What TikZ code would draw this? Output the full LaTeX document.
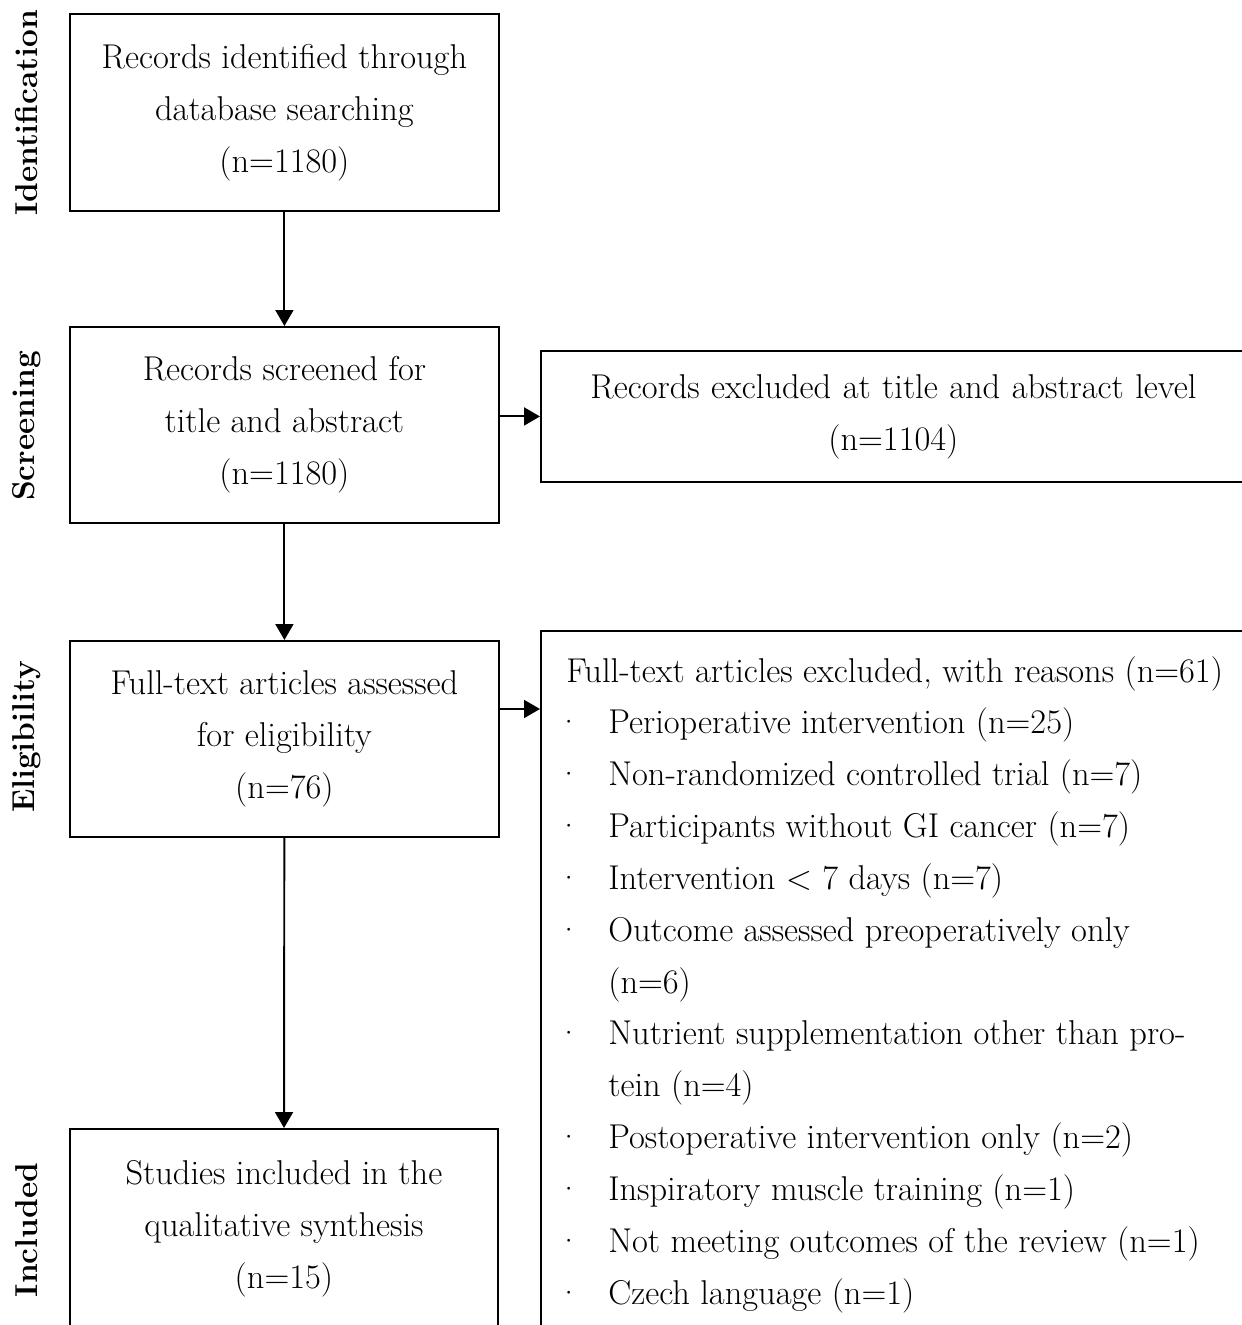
\documentclass[tikz,border=0pt]{standalone}
\usetikzlibrary{arrows.meta,positioning,calc}
\tikzset{
  stagebox/.style={
    draw=black,
    line width=1.1pt,
    fill=white,
    anchor=north west,
    align=center,
    inner sep=0pt,
    font=\fontsize{19.6}{29.5}\selectfont
  },
  stagelabel/.style={rotate=90, font=\fontsize{18}{22}\selectfont\bfseries},
  listtext/.style={anchor=north west, align=left, inner sep=0pt, font=\fontsize{19.6}{29.5}\selectfont},
  flow/.style={-{Triangle[length=0.32cm,width=0.36cm]}, line width=1.1pt}
}
\newcommand{\reason}[1]{\makebox[0.84cm][l]{\hspace*{-0.2cm}·}#1}
\newcommand{\wrapped}[1]{\hspace*{0.84cm}#1}

\begin{document}
\begin{tikzpicture}[x=0.02cm, y=-0.02cm]
  \useasboundingbox (0,0) rectangle (1241,1325);
  \node[stagebox, minimum width=8.58cm, minimum height=3.94cm] (ident) at (69,13)
    {Records identified through\\database searching\\(n=1180)};
  \node[stagebox, minimum width=8.58cm, minimum height=3.92cm] (screen) at (69,326)
    {Records screened for\\title and abstract\\(n=1180)};
  \node[stagebox, text width=14.1cm, minimum height=2.62cm] (excl1) at (540,350)
    {Records excluded at title and abstract level\\(n=1104)};
  \node[stagebox, minimum width=8.58cm, minimum height=3.92cm] (elig) at (69,640)
    {Full-text articles assessed\\for eligibility\\(n=76)};
  \node[stagebox, minimum width=16cm, minimum height=16cm] (excl2) at (540,630) {};
  \node[stagebox, minimum width=8.56cm, minimum height=3.98cm] (incl) at (69,1128)
    {Studies included in the\\qualitative synthesis\\(n=15)};
  \node[listtext] (reasons) at (566,656)
    {Full-text articles excluded, with reasons (n=61)\\
     \reason{Perioperative intervention (n=25)}\\
     \reason{Non-randomized controlled trial (n=7)}\\
     \reason{Participants without GI cancer (n=7)}\\
     \reason{Intervention < 7 days (n=7)}\\
     \reason{Outcome assessed preoperatively only}\\
     \wrapped{(n=6)}\\
     \reason{Nutrient supplementation other than pro-}\\
     \wrapped{tein (n=4)}\\
     \reason{Postoperative intervention only (n=2)}\\
     \reason{Inspiratory muscle training (n=1)}\\
     \reason{Not meeting outcomes of the review (n=1)}\\
     \reason{Czech language (n=1)}};
  \node[stagelabel] (lident) at (27,113) {Identification};
  \node[stagelabel] (lscreen) at (27,426) {Screening};
  \node[stagelabel] (lelig) at (27,737) {Eligibility};
  \node[stagelabel] (lincl) at (27,1230) {Included};
  \draw[flow] (ident) -- (screen);
  \draw[flow] (screen) -- (elig);
  \draw[flow] (elig) -- (incl);
  \draw[flow] (excl1.west -| screen.east) -- (excl1.west);
  \draw[flow] ([yshift=-1.38cm]elig.north east) -- ([yshift=-1.38cm]elig.north east -| excl2.west);
\end{tikzpicture}
\end{document}
